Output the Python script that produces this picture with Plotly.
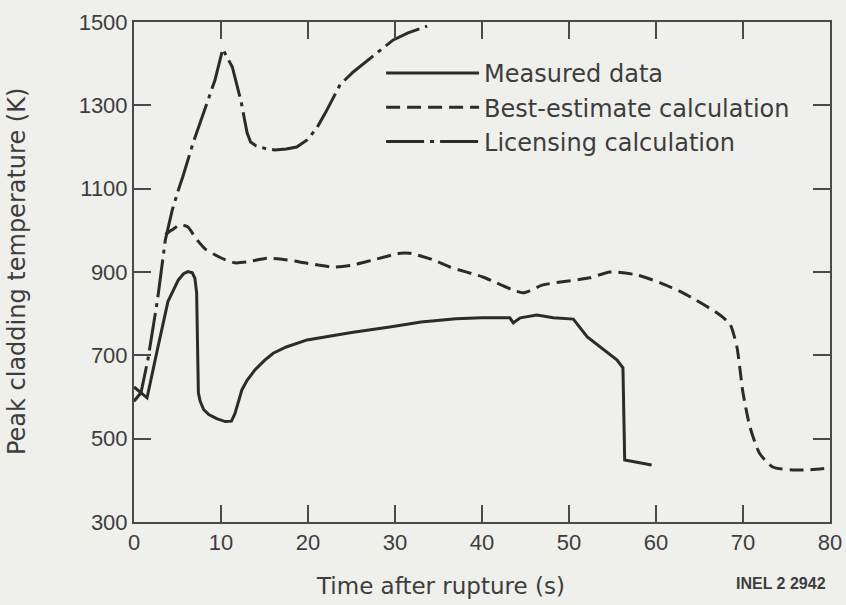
import plotly.graph_objects as go

# Peak cladding temperature vs time after rupture
measured_t = [0, 0.7, 1.5, 2.7, 3.9, 5.1, 5.7, 6.2, 6.7, 7.0, 7.2, 7.4, 7.6, 8.0, 8.6,
              9.5, 10.5, 11.2, 11.6, 12.4, 13.0, 13.9, 15.0, 16.0, 17.5, 19.9, 22.0,
              25.0, 29.4, 33.0, 37.0, 40.0, 43.2, 43.6, 44.4, 46.3, 48.2, 50.5, 52.1,
              55.5, 56.2, 56.4, 59.5]
measured_k = [624, 612, 598, 715, 829, 881, 896, 901, 898, 885, 850, 610, 590, 570, 558,
              548, 541, 542, 560, 617, 640, 665, 688, 705, 720, 737, 745,
              755, 768, 780, 788, 790, 790, 778, 790, 797, 790, 787, 744,
              689, 670, 449, 437]

best_t = [3.6, 4.3, 5.3, 6.2, 7.0, 8.2, 10.1, 11.6, 13.0, 15.3, 17.6, 19.9, 22.9, 25.2,
          27.5, 30.6, 31.7, 34.4, 36.3, 40.1, 44.7, 47.0, 52.4, 54.7, 57.8, 60.5, 63.1,
          67.0, 68.5, 69.3, 70.0, 70.8, 71.9, 73.4, 75.7, 77.4, 80.0]
best_k = [990, 1000, 1013, 1008, 984, 955, 933, 922, 924, 933, 929, 921, 912, 917,
          929, 945, 945, 929, 912, 888, 850, 869, 886, 900, 893, 874, 850,
          802, 775, 720, 610, 528, 465, 432, 425, 425, 430]

lic_t = [0, 0.8, 1.6, 2.7, 3.6, 4.4, 5.1, 5.6, 6.8, 8.2, 9.3, 10.2, 11.3, 12.3, 13.0,
         13.4, 14.0, 15.0, 16.2, 17.5, 18.7, 19.9, 21.0, 22.0, 22.9, 23.7, 25.2, 26.8,
         28.3, 29.8, 31.5, 33.7]
lic_k = [590, 610, 690, 833, 977, 1049, 1097, 1128, 1210, 1294, 1360, 1435, 1392, 1310, 1234,
         1212, 1203, 1197, 1193, 1195, 1200, 1217, 1245, 1282, 1320, 1350, 1380, 1406,
         1432, 1457, 1474, 1490]

x_ticks = [0, 10, 20, 30, 40, 50, 60, 70, 80]
y_ticks = [300, 500, 700, 900, 1100, 1300, 1500]

INK = "#2b2b2b"
TEXT = "#3d3d3d"
BG = "#efefec"

fig = go.Figure()
fig.add_trace(go.Scatter(x=measured_t, y=measured_k, mode="lines", name="Measured data",
                         line=dict(color=INK, width=3, dash="solid")))
fig.add_trace(go.Scatter(x=best_t, y=best_k, mode="lines", name="Best-estimate calculation",
                         line=dict(color=INK, width=3, dash="14px,7px",
                                   shape="spline", smoothing=0.6)))
fig.add_trace(go.Scatter(x=lic_t, y=lic_k, mode="lines", name="Licensing calculation",
                         line=dict(color=INK, width=3, dash="38px,6px,4px,6px")))

axis_common = dict(showline=True, linecolor="#4a4a4a", linewidth=2, mirror="ticks",
                   ticks="inside", ticklen=17, tickwidth=2, tickcolor="#4a4a4a",
                   showgrid=False, zeroline=False, automargin=False,
                   tickfont=dict(family="Liberation Sans", size=22, color=TEXT))

fig.update_xaxes(range=[0, 80], tickvals=x_ticks, ticktext=[str(v) for v in x_ticks],
                 **axis_common)
fig.update_yaxes(range=[300, 1500], tickvals=y_ticks, ticktext=[str(v) for v in y_ticks],
                 **axis_common)

# axis titles and figure number
fig.add_annotation(text="Time after rupture (s)", xref="paper", yref="paper",
                   x=0.44, y=-0.127, xanchor="center", yanchor="middle", showarrow=False,
                   font=dict(family="DejaVu Sans", size=23, color=TEXT))
fig.add_annotation(text="Peak cladding temperature (K)", xref="paper", yref="paper",
                   x=-0.168, y=0.5, xanchor="center", yanchor="middle", showarrow=False,
                   textangle=-90,
                   font=dict(family="DejaVu Sans", size=24, color=TEXT))
fig.add_annotation(text="<b>INEL 2 2942</b>", xref="paper", yref="paper",
                   x=0.997, y=-0.122, xanchor="right", yanchor="middle", showarrow=False,
                   font=dict(family="Liberation Sans", size=16, color=TEXT))

fig.update_layout(
    width=846, height=605,
    margin=dict(l=134, r=16, t=22, b=83),
    paper_bgcolor=BG, plot_bgcolor=BG,
    showlegend=True,
    legend=dict(x=0.355, y=0.942, xanchor="left", yanchor="top",
                bgcolor="rgba(0,0,0,0)", itemwidth=93,
                font=dict(family="DejaVu Sans", size=24, color=TEXT)),
)

fig.write_html("out.html")
